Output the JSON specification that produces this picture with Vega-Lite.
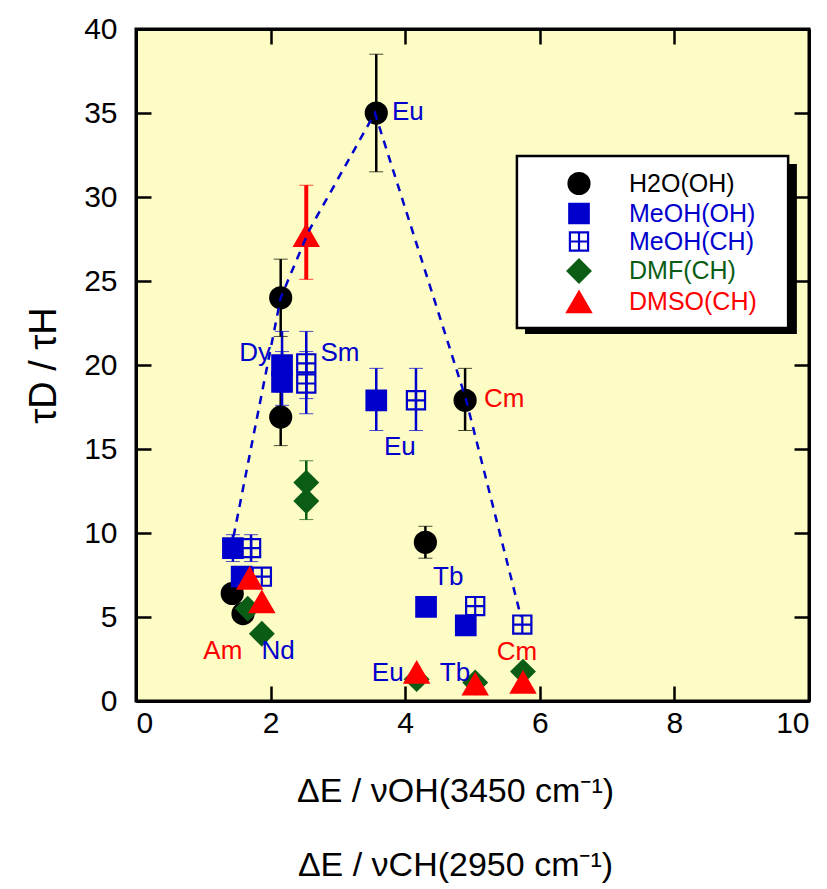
{
  "$schema": "https://vega.github.io/schema/vega-lite/v6.json",
  "width": 673,
  "height": 672,
  "autosize": {"type": "none"},
  "padding": {"left": 136, "top": 29, "right": 18, "bottom": 188},
  "background": "white",
  "config": {
    "font": "Liberation Sans",
    "view": {"fill": "#fcfcc4", "stroke": "black", "strokeWidth": 3},
    "axis": {"grid": false, "domainColor": "black", "domainWidth": 3, "tickColor": "black", "tickWidth": 2.5, "tickSize": -15, "labelColor": "black", "labelFont": "Liberation Sans", "labelFontSize": 30, "titleFont": "Liberation Sans", "titleColor": "black", "titleFontWeight": "normal"}
  },
  "datasets": {
    "points": [
      {"series": "H2O(OH)", "x": 3.57, "y": 35.0},
      {"series": "H2O(OH)", "x": 2.15, "y": 24.0},
      {"series": "H2O(OH)", "x": 2.15, "y": 16.9},
      {"series": "H2O(OH)", "x": 4.89, "y": 17.9},
      {"series": "H2O(OH)", "x": 4.30, "y": 9.45},
      {"series": "H2O(OH)", "x": 1.43, "y": 6.4},
      {"series": "H2O(OH)", "x": 1.59, "y": 5.2},
      {"series": "MeOH(OH)", "x": 2.17, "y": 20.0},
      {"series": "MeOH(OH)", "x": 2.17, "y": 19.0},
      {"series": "MeOH(OH)", "x": 3.57, "y": 17.9},
      {"series": "MeOH(OH)", "x": 4.31, "y": 5.6},
      {"series": "MeOH(OH)", "x": 4.90, "y": 4.5},
      {"series": "MeOH(OH)", "x": 1.44, "y": 9.1},
      {"series": "MeOH(OH)", "x": 1.57, "y": 7.4},
      {"series": "MeOH(CH)", "x": 2.53, "y": 20.1},
      {"series": "MeOH(CH)", "x": 2.53, "y": 18.9},
      {"series": "MeOH(CH)", "x": 4.16, "y": 17.9},
      {"series": "MeOH(CH)", "x": 5.04, "y": 5.65},
      {"series": "MeOH(CH)", "x": 5.74, "y": 4.55},
      {"series": "MeOH(CH)", "x": 1.71, "y": 9.1},
      {"series": "MeOH(CH)", "x": 1.87, "y": 7.4},
      {"series": "DMF(CH)", "x": 2.53, "y": 13.0},
      {"series": "DMF(CH)", "x": 2.53, "y": 11.9},
      {"series": "DMF(CH)", "x": 1.66, "y": 5.5},
      {"series": "DMF(CH)", "x": 1.87, "y": 4.0},
      {"series": "DMF(CH)", "x": 4.17, "y": 1.3},
      {"series": "DMF(CH)", "x": 5.04, "y": 1.1},
      {"series": "DMF(CH)", "x": 5.75, "y": 1.75},
      {"series": "DMSO(CH)", "x": 2.53, "y": 27.7},
      {"series": "DMSO(CH)", "x": 1.69, "y": 7.3},
      {"series": "DMSO(CH)", "x": 1.87, "y": 5.9},
      {"series": "DMSO(CH)", "x": 4.17, "y": 1.7},
      {"series": "DMSO(CH)", "x": 5.04, "y": 1.0},
      {"series": "DMSO(CH)", "x": 5.75, "y": 1.1}
    ],
    "errors": [
      {"series": "H2O(OH)", "x": 3.57, "lo": 31.5, "hi": 38.5},
      {"series": "H2O(OH)", "x": 2.15, "lo": 21.7, "hi": 26.3},
      {"series": "H2O(OH)", "x": 2.15, "lo": 15.2, "hi": 18.7},
      {"series": "H2O(OH)", "x": 4.89, "lo": 16.1, "hi": 19.8},
      {"series": "H2O(OH)", "x": 4.30, "lo": 8.5, "hi": 10.4},
      {"series": "MeOH(OH)", "x": 2.17, "lo": 18.4, "hi": 22.0},
      {"series": "MeOH(OH)", "x": 2.17, "lo": 17.6, "hi": 20.8},
      {"series": "MeOH(OH)", "x": 3.57, "lo": 16.1, "hi": 19.8},
      {"series": "MeOH(OH)", "x": 1.44, "lo": 8.3, "hi": 9.9},
      {"series": "MeOH(CH)", "x": 2.53, "lo": 18.0, "hi": 22.0},
      {"series": "MeOH(CH)", "x": 2.53, "lo": 17.1, "hi": 20.8},
      {"series": "MeOH(CH)", "x": 4.16, "lo": 16.1, "hi": 19.8},
      {"series": "MeOH(CH)", "x": 1.71, "lo": 8.3, "hi": 9.9},
      {"series": "DMF(CH)", "x": 2.53, "lo": 10.8, "hi": 14.3},
      {"series": "DMSO(CH)", "x": 2.53, "lo": 25.1, "hi": 30.7}
    ],
    "labels": [
      {"text": "Eu", "group": "Ln", "x": 4.04, "y": 35.05},
      {"text": "Dy", "group": "Ln", "x": 1.77, "y": 20.7},
      {"text": "Sm", "group": "Ln", "x": 3.03, "y": 20.7},
      {"text": "Eu", "group": "Ln", "x": 3.92, "y": 15.1},
      {"text": "Cm", "group": "An", "x": 5.47, "y": 18.0},
      {"text": "Tb", "group": "Ln", "x": 4.64, "y": 7.4},
      {"text": "Am", "group": "An", "x": 1.29, "y": 3.0},
      {"text": "Nd", "group": "Ln", "x": 2.11, "y": 3.0},
      {"text": "Eu", "group": "Ln", "x": 3.74, "y": 1.67},
      {"text": "Tb", "group": "Ln", "x": 4.74, "y": 1.67},
      {"text": "Cm", "group": "An", "x": 5.66, "y": 2.9}
    ],
    "curve": [
      {"x": 1.45, "y": 9.8},
      {"x": 2.15, "y": 24.0},
      {"x": 2.57, "y": 28.0},
      {"x": 3.55, "y": 35.0},
      {"x": 4.9, "y": 18.0},
      {"x": 5.72, "y": 5.0}
    ]
  },
  "layer": [
    {
      "data": {"values": [{}]},
      "mark": {"type": "rect", "fill": "black"},
      "encoding": {
        "x": {"datum": 5.78, "type": "quantitative", "scale": {"domain": [0, 10], "nice": false}, "axis": null},
        "x2": {"datum": 9.82},
        "y": {"datum": 31.96, "type": "quantitative", "scale": {"domain": [0, 40], "nice": false}, "axis": null},
        "y2": {"datum": 21.85}
      }
    },
    {
      "data": {"values": [{}]},
      "mark": {"type": "rect", "fill": "white", "stroke": "black", "strokeWidth": 2.5},
      "encoding": {
        "x": {"datum": 5.66, "type": "quantitative", "scale": {"domain": [0, 10], "nice": false}, "axis": null},
        "x2": {"datum": 9.69},
        "y": {"datum": 32.44, "type": "quantitative", "scale": {"domain": [0, 40], "nice": false}, "axis": null},
        "y2": {"datum": 22.2}
      }
    },
    {
      "data": {"name": "errors"},
      "mark": {"type": "rule"},
      "encoding": {
        "x": {"field": "x", "type": "quantitative", "scale": {"domain": [0, 10], "nice": false}, "axis": null},
        "y": {"field": "lo", "type": "quantitative", "scale": {"domain": [0, 40], "nice": false}, "axis": null},
        "y2": {"field": "hi"},
        "color": {"condition": [{"test": "datum.series == 'H2O(OH)'", "value": "black"}, {"test": "datum.series == 'DMF(CH)'", "value": "#0b5d16"}, {"test": "datum.series == 'DMSO(CH)'", "value": "#ff0000"}], "value": "#0000cc"},
        "strokeWidth": {"condition": {"test": "datum.series == 'DMSO(CH)'", "value": 4}, "value": 2.5}
      }
    },
    {
      "data": {"name": "errors"},
      "mark": {"type": "tick", "orient": "horizontal", "size": 14},
      "encoding": {
        "x": {"field": "x", "type": "quantitative", "scale": {"domain": [0, 10], "nice": false}, "axis": null},
        "y": {"field": "lo", "type": "quantitative", "scale": {"domain": [0, 40], "nice": false}, "axis": null},
        "color": {"condition": [{"test": "datum.series == 'H2O(OH)'", "value": "black"}, {"test": "datum.series == 'DMF(CH)'", "value": "#0b5d16"}, {"test": "datum.series == 'DMSO(CH)'", "value": "#ff0000"}], "value": "#0000cc"},
        "thickness": {"condition": {"test": "datum.series == 'DMSO(CH)'", "value": 3.5}, "value": 2.5}
      }
    },
    {
      "data": {"name": "errors"},
      "mark": {"type": "tick", "orient": "horizontal", "size": 14},
      "encoding": {
        "x": {"field": "x", "type": "quantitative", "scale": {"domain": [0, 10], "nice": false}, "axis": null},
        "y": {"field": "hi", "type": "quantitative", "scale": {"domain": [0, 40], "nice": false}, "axis": null},
        "color": {"condition": [{"test": "datum.series == 'H2O(OH)'", "value": "black"}, {"test": "datum.series == 'DMF(CH)'", "value": "#0b5d16"}, {"test": "datum.series == 'DMSO(CH)'", "value": "#ff0000"}], "value": "#0000cc"},
        "thickness": {"condition": {"test": "datum.series == 'DMSO(CH)'", "value": 3.5}, "value": 2.5}
      }
    },
    {
      "data": {"name": "points"},
      "mark": {"type": "point", "strokeWidth": 2.2, "opacity": 1},
      "encoding": {
        "x": {"field": "x", "type": "quantitative", "scale": {"domain": [0, 10], "nice": false},
              "axis": {"orient": "bottom", "values": [0, 2, 4, 6, 8, 10], "labelPadding": 22,
                       "title": ["ΔE / νOH(3450 cm⁻¹)", "ΔE / νCH(2950 cm⁻¹)"], "titleFontSize": 34, "titleLineHeight": 74, "titlePadding": 36, "titleX": 319}},
        "y": {"field": "y", "type": "quantitative", "scale": {"domain": [0, 40], "nice": false},
              "axis": {"orient": "left", "values": [0, 5, 10, 15, 20, 25, 30, 35, 40], "labelPadding": 34,
                       "title": "τD / τH", "titleFontSize": 38, "titlePadding": 20}},
        "shape": {"field": "series", "type": "nominal",
                  "scale": {"domain": ["H2O(OH)", "MeOH(OH)", "MeOH(CH)", "DMF(CH)", "DMSO(CH)"],
                            "range": ["circle", "square", "M-1,-1H1V1H-1Z M0,-1V1 M-1,0H1", "diamond", "triangle-up"]},
                  "legend": {"title": null, "orient": "none", "legendX": 430, "legendY": 142, "padding": 0, "zindex": 2,
                             "labelFont": "Liberation Sans", "labelFontSize": 25, "labelOffset": 37, "rowPadding": 0,
                             "symbolStrokeWidth": 2.2,
                             "labelColor": {"expr": "datum.value == 'H2O(OH)' ? 'black' : datum.value == 'DMF(CH)' ? '#0b5d16' : datum.value == 'DMSO(CH)' ? '#ff0000' : '#0000cc'"}}},
        "fill": {"field": "series", "type": "nominal",
                 "scale": {"domain": ["H2O(OH)", "MeOH(OH)", "MeOH(CH)", "DMF(CH)", "DMSO(CH)"],
                           "range": ["black", "#0000cc", "transparent", "#0b5d16", "#ff0000"]}},
        "stroke": {"field": "series", "type": "nominal",
                   "scale": {"domain": ["H2O(OH)", "MeOH(OH)", "MeOH(CH)", "DMF(CH)", "DMSO(CH)"],
                             "range": ["black", "#0000cc", "#0000cc", "#0b5d16", "#ff0000"]}},
        "size": {"field": "series", "type": "ordinal",
                 "scale": {"type": "ordinal", "domain": ["H2O(OH)", "MeOH(OH)", "MeOH(CH)", "DMF(CH)", "DMSO(CH)"],
                           "range": [440, 380, 330, 520, 560]}}
      }
    },
    {
      "data": {"name": "curve"},
      "mark": {"type": "line", "stroke": "#0000cc", "strokeWidth": 2.5, "strokeDash": [8, 7]},
      "encoding": {
        "x": {"field": "x", "type": "quantitative", "scale": {"domain": [0, 10], "nice": false},
              "axis": {"orient": "top", "values": [0, 2, 4, 6, 8, 10], "labels": false, "title": null}},
        "y": {"field": "y", "type": "quantitative", "scale": {"domain": [0, 40], "nice": false},
              "axis": {"orient": "right", "values": [0, 5, 10, 15, 20, 25, 30, 35, 40], "labels": false, "title": null}}
      }
    },
    {
      "data": {"name": "labels"},
      "mark": {"type": "text", "fontSize": 26, "font": "Liberation Sans", "align": "center", "baseline": "middle"},
      "encoding": {
        "x": {"field": "x", "type": "quantitative", "scale": {"domain": [0, 10], "nice": false}, "axis": null},
        "y": {"field": "y", "type": "quantitative", "scale": {"domain": [0, 40], "nice": false}, "axis": null},
        "text": {"field": "text"},
        "color": {"condition": {"test": "datum.group == 'An'", "value": "#ff0000"}, "value": "#0000cc"}
      }
    }
  ]
}
